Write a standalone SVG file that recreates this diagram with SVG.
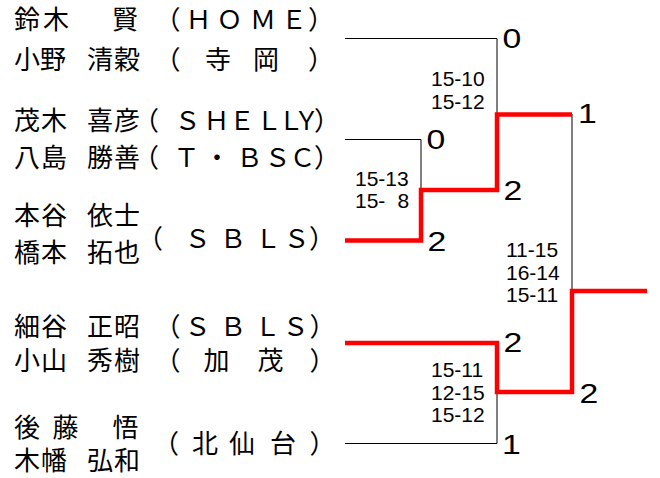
<svg xmlns="http://www.w3.org/2000/svg" width="660" height="478" viewBox="0 0 660 478">
<style>
.nm{font-family:"Noto Sans CJK JP","Noto Sans CJK SC",sans-serif;font-size:26px;fill:#000}
.sc{font-family:"Liberation Sans",Arial,sans-serif;font-size:21px;fill:#000}
.rs{font-family:"Liberation Sans",Arial,sans-serif;font-size:27px;fill:#000}
.thin{fill:none;stroke:#000;stroke-width:1}
.win{fill:none;stroke:#ff0000;stroke-width:4.5;stroke-linejoin:miter;stroke-linecap:butt}
</style>
<rect width="660" height="478" fill="#fff"/>
<g id="connectors">
<path class="thin" d="M345 38.5H497V114"/>
<path class="thin" d="M345 139.5H421V190"/>
<path class="thin" d="M572 114V291"/>
<path class="thin" d="M345 443.5H497V392"/>
<path class="win" d="M345 240.5H421V190H497V114.5H572"/>
<path class="win" d="M345 343H497V392H572V291H647"/>
</g>
<g id="team1">
<text class="nm" x="14 43 70 112" y="29">鈴木　賢</text>
<text class="nm" x="154.5 185.5 216.5 250 281 308" y="29">（ＨＯＭＥ）</text>
<text class="nm" x="14 40 66 87 114" y="68.5">小野　清穀</text>
<text class="nm" x="154.5 180 205 229 253 280 308" y="68.5">（　寺　岡　）</text>
</g>
<g id="team2">
<text class="nm" x="14 41 66 87 114" y="129.5">茂木　喜彦</text>
<text class="nm" x="133 174.5 203.5 229 256 278 293.5 314" y="129.5">（ＳＨＥＬＬＹ）</text>
<text class="nm" x="14 41 66 87 114" y="166.5">八島　勝善</text>
<text class="nm" x="133 173.5 204 236.5 264.5 289.5 314" y="166.5">（Ｔ・ＢＳＣ）</text>
</g>
<g id="team3">
<text class="nm" x="14 41 66 87 114" y="225">本谷　依士</text>
<text class="nm" x="14 41 66 87 114" y="262">橋本　拓也</text>
<text class="nm" x="137 184.5 220 255 283.5 309" y="247.5">（ＳＢＬＳ）</text>
</g>
<g id="team4">
<text class="nm" x="14 41 66 87 114" y="335.5">細谷　正昭</text>
<text class="nm" x="154.5 184.5 220 254.5 282.5 309.5" y="335.5">（ＳＢＬＳ）</text>
<text class="nm" x="14 41 66 87 114" y="369.5">小山　秀樹</text>
<text class="nm" x="154.5 180 203.5 230 257.5 283 309.5" y="369.5">（　加　茂　）</text>
</g>
<g id="team5">
<text class="nm" x="14 52.5 86 112.5" y="436.5">後藤　悟</text>
<text class="nm" x="14 41 66 87 114" y="470">木幡　弘和</text>
<text class="nm" x="153 192 229 270 309.5" y="452.5">（北仙台）</text>
</g>
<g id="scores">
<text class="sc" x="431" y="86">15-10</text>
<text class="sc" x="431" y="109">15-12</text>
<text class="sc" x="355" y="186">15-13</text>
<text class="sc" x="355" y="208">15- <tspan x="397.5">8</tspan></text>
<text class="sc" x="506" y="256.5">11-15</text>
<text class="sc" x="506" y="279.5">16-14</text>
<text class="sc" x="506" y="302">15-11</text>
<text class="sc" x="431" y="377">15-11</text>
<text class="sc" x="431" y="399.5">12-15</text>
<text class="sc" x="431" y="422">15-12</text>
</g>
<g id="results">
<text class="rs" transform="translate(502.5,48) scale(1.25,1)">0</text>
<text class="rs" transform="translate(578,123) scale(1.25,1)">1</text>
<text class="rs" transform="translate(426.5,149) scale(1.25,1)">0</text>
<text class="rs" transform="translate(503.5,200) scale(1.25,1)">2</text>
<text class="rs" transform="translate(427.5,250.5) scale(1.25,1)">2</text>
<text class="rs" transform="translate(503.5,352) scale(1.25,1)">2</text>
<text class="rs" transform="translate(579.5,402.5) scale(1.25,1)">2</text>
<text class="rs" transform="translate(502,454) scale(1.25,1)">1</text>
</g>
</svg>
